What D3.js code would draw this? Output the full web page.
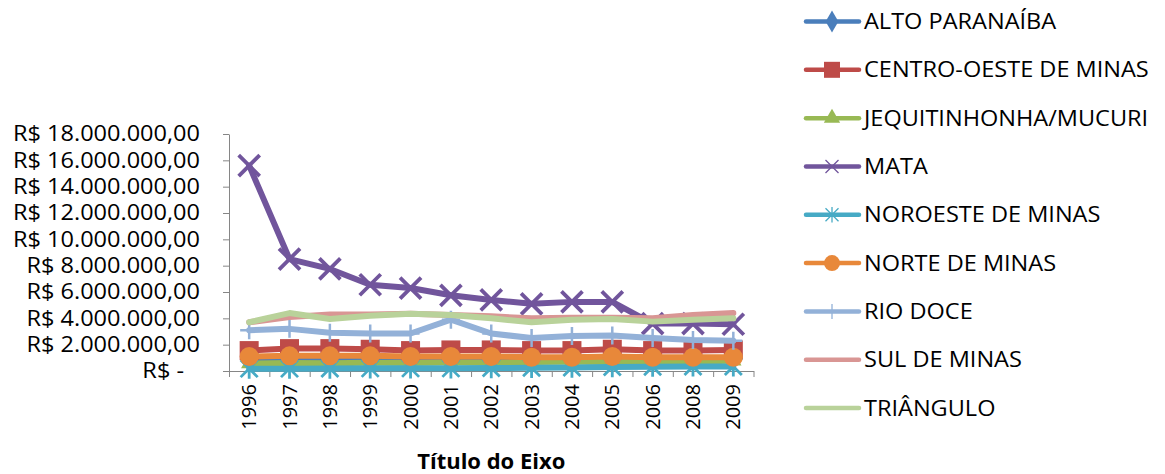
<!DOCTYPE html>
<html>
<head>
<meta charset="utf-8">
<script src="https://cdn.jsdelivr.net/npm/d3@7"></script>
<style>
  body { margin: 0; background: #fff; }
  text { font-family: "Open Sans", sans-serif; fill: #000; }
</style>
</head>
<body>
<svg id="chart" width="1165" height="474"></svg>
<script>
// categories (no 2007 in the source table)
const years = ["1996", "1997", "1998", "1999", "2000", "2001", "2002", "2003", "2004", "2005", "2006", "2008", "2009"]

// series values, R$ per year
const altoParanaiba = [850000, 880000, 860000, 870000, 850000, 860000, 870000, 890000, 900000, 910000, 900000, 920000, 930000]
const centroOeste = [1550000, 1700000, 1700000, 1650000, 1550000, 1600000, 1600000, 1550000, 1550000, 1650000, 1550000, 1550000, 1600000]
const jequitinhonha = [560000, 610000, 590000, 620000, 600000, 640000, 630000, 680000, 700000, 690000, 740000, 730000, 770000]
const mata = [15600000, 8500000, 7750000, 6550000, 6300000, 5750000, 5400000, 5100000, 5250000, 5250000, 3600000, 3600000, 3550000]
const noroeste = [180000, 180000, 190000, 200000, 200000, 200000, 220000, 240000, 260000, 300000, 330000, 350000, 350000]
const norte = [1100000, 1150000, 1150000, 1150000, 1100000, 1100000, 1100000, 1050000, 1050000, 1100000, 1050000, 1050000, 1050000]
const rioDoce = [3100000, 3200000, 2900000, 2850000, 2850000, 3900000, 2850000, 2500000, 2650000, 2700000, 2500000, 2350000, 2300000]
const sulDeMinas = [3700000, 4100000, 4300000, 4300000, 4350000, 4250000, 4150000, 4000000, 4050000, 4050000, 4000000, 4250000, 4400000]
const triangulo = [3700000, 4400000, 3950000, 4200000, 4350000, 4250000, 4000000, 3700000, 3900000, 3950000, 3750000, 3900000, 4000000]

const yTicks = [0, 2000000, 4000000, 6000000, 8000000, 10000000, 12000000, 14000000, 16000000, 18000000]
const axisTitle = "Título do Eixo"

const series = [
  { name: "ALTO PARANAÍBA", values: altoParanaiba, color: "#4a7ebb", marker: "diamond" },
  { name: "CENTRO-OESTE DE MINAS", values: centroOeste, color: "#be4b48", marker: "square" },
  { name: "JEQUITINHONHA/MUCURI", values: jequitinhonha, color: "#98b954", marker: "triangle" },
  { name: "MATA", values: mata, color: "#71559c", marker: "x" },
  { name: "NOROESTE DE MINAS", values: noroeste, color: "#46aac5", marker: "star" },
  { name: "NORTE DE MINAS", values: norte, color: "#e8883a", marker: "circle" },
  { name: "RIO DOCE", values: rioDoce, color: "#93b1d8", marker: "plus" },
  { name: "SUL DE MINAS", values: sulDeMinas, color: "#d99694", marker: "none" },
  { name: "TRIÂNGULO", values: triangulo, color: "#b9d29a", marker: "none" }
]

const svg = d3.select("#chart")
const plot = { left: 229, right: 753.5, top: 134, bottom: 371 }

// the source font is narrower/taller than Open Sans, so widen text a bit
const stretch = 1.12
const widen = sel => sel.each(function () {
  const w = this.getComputedTextLength()
  d3.select(this).attr("textLength", w * stretch).attr("lengthAdjust", "spacingAndGlyphs")
})

const x = d3.scaleBand().domain(years).range([plot.left, plot.right])
const xc = d => x(d) + x.bandwidth() / 2
const y = d3.scaleLinear().domain([0, 18000000]).range([plot.bottom, plot.top])

const brl = d3.formatLocale({ decimal: ",", thousands: ".", grouping: [3], currency: ["R$ ", ""] })
const fmt = brl.format("$,.2f")

// y axis
const yAxis = svg.append("g")
  .attr("transform", `translate(${plot.left},0)`)
  .call(d3.axisLeft(y).tickValues(yTicks).tickSize(6).tickSizeOuter(0).tickPadding(23)
    .tickFormat(d => d === 0 ? "R$ -" : fmt(d)))
yAxis.selectAll("line, path").attr("stroke", "#868686")
yAxis.selectAll("text").style("font-size", "21px").attr("dx", d => d === 0 ? -16 : 0).call(widen)

// x axis: ticks sit between categories
const edges = d3.scaleLinear().domain([0, years.length]).range([plot.left, plot.right])
const xAxis = svg.append("g")
  .attr("transform", `translate(0,${plot.bottom})`)
  .call(d3.axisBottom(edges).tickValues(d3.range(years.length + 1)).tickSize(6).tickSizeOuter(0).tickFormat(""))
xAxis.selectAll("line, path").attr("stroke", "#868686")

svg.append("g").selectAll("text")
  .data(years)
  .join("text")
  .attr("transform", d => `translate(${xc(d)},${plot.bottom + 13}) rotate(-90)`)
  .attr("text-anchor", "end")
  .attr("dy", "0.35em")
  .style("font-size", "20px")
  .text(d => d)

svg.append("text")
  .attr("x", (plot.left + plot.right) / 2)
  .attr("y", 469)
  .attr("text-anchor", "middle")
  .style("font-size", "22px")
  .style("font-weight", "bold")
  .text(axisTitle)

// marker drawing
function drawMarker (g, type, color, s) {
  const sw = s.stroke
  if (type === "diamond") {
    g.append("path").attr("d", d3.symbol(d3.symbolDiamond, s.size * s.size * 0.55)()).attr("fill", color)
  } else if (type === "square") {
    g.append("rect").attr("x", -s.size / 2).attr("y", -s.size / 2).attr("width", s.size).attr("height", s.size).attr("fill", color)
  } else if (type === "triangle") {
    g.append("path").attr("d", d3.symbol(d3.symbolTriangle, s.size * s.size * 0.45)()).attr("fill", color)
  } else if (type === "circle") {
    g.append("circle").attr("r", s.size / 2).attr("fill", color)
  } else if (type === "x") {
    const h = s.size / 2
    g.append("path").attr("d", `M${-h},${-h}L${h},${h}M${-h},${h}L${h},${-h}`)
      .attr("stroke", color).attr("stroke-width", sw).attr("fill", "none")
  } else if (type === "star") {
    const h = s.size / 2
    g.append("path").attr("d", `M${-h},${-h}L${h},${h}M${-h},${h}L${h},${-h}M0,${-h * 1.2}L0,${h * 1.2}`)
      .attr("stroke", color).attr("stroke-width", sw).attr("fill", "none")
  } else if (type === "plus") {
    const h = s.size / 2
    g.append("path").attr("d", `M${-h},0L${h},0M0,${-h}L0,${h}`)
      .attr("stroke", color).attr("stroke-width", sw).attr("fill", "none")
  }
}

const plotMarker = {
  diamond: { size: 16, stroke: 2 },
  square: { size: 19, stroke: 2 },
  triangle: { size: 16, stroke: 2 },
  circle: { size: 19, stroke: 2 },
  x: { size: 21, stroke: 3.8 },
  star: { size: 17, stroke: 2.8 },
  plus: { size: 18, stroke: 2.5 }
}

const line = d3.line()
  .x((d, i) => xc(years[i]))
  .y(d => y(d))

const lines = svg.append("g")
series.forEach(s => {
  const g = lines.append("g")
  g.append("path")
    .datum(s.values)
    .attr("d", line)
    .attr("fill", "none")
    .attr("stroke", s.color)
    .attr("stroke-width", 6)
    .attr("stroke-linejoin", "round")
    .attr("stroke-linecap", "round")
  if (s.marker !== "none") {
    g.selectAll("g.mk")
      .data(s.values)
      .join("g")
      .attr("class", "mk")
      .attr("transform", (d, i) => `translate(${xc(years[i])},${y(d)})`)
      .each(function () { drawMarker(d3.select(this), s.marker, s.color, plotMarker[s.marker]) })
  }
})

// legend
const legendMarker = {
  diamond: { size: 16, stroke: 1.5 },
  square: { size: 16, stroke: 1.5 },
  triangle: { size: 16, stroke: 1.5 },
  circle: { size: 16, stroke: 1.5 },
  x: { size: 13, stroke: 1.3 },
  star: { size: 13, stroke: 1.3 },
  plus: { size: 15, stroke: 1.3 }
}
const ly = d3.scaleLinear().domain([0, series.length - 1]).range([21.5, 408])
const legend = svg.append("g")
series.forEach((s, i) => {
  const g = legend.append("g").attr("transform", `translate(0,${ly(i)})`)
  g.append("line").attr("x1", 806).attr("x2", 859)
    .attr("stroke", s.color).attr("stroke-width", 4.5).attr("stroke-linecap", "round")
  if (s.marker !== "none") {
    const m = g.append("g").attr("transform", "translate(832,0)")
    drawMarker(m, s.marker, s.color, legendMarker[s.marker])
  }
  g.append("text").attr("x", 864).attr("dy", "0.36em").style("font-size", "21px").text(s.name).call(widen)
})
</script>
</body>
</html>
